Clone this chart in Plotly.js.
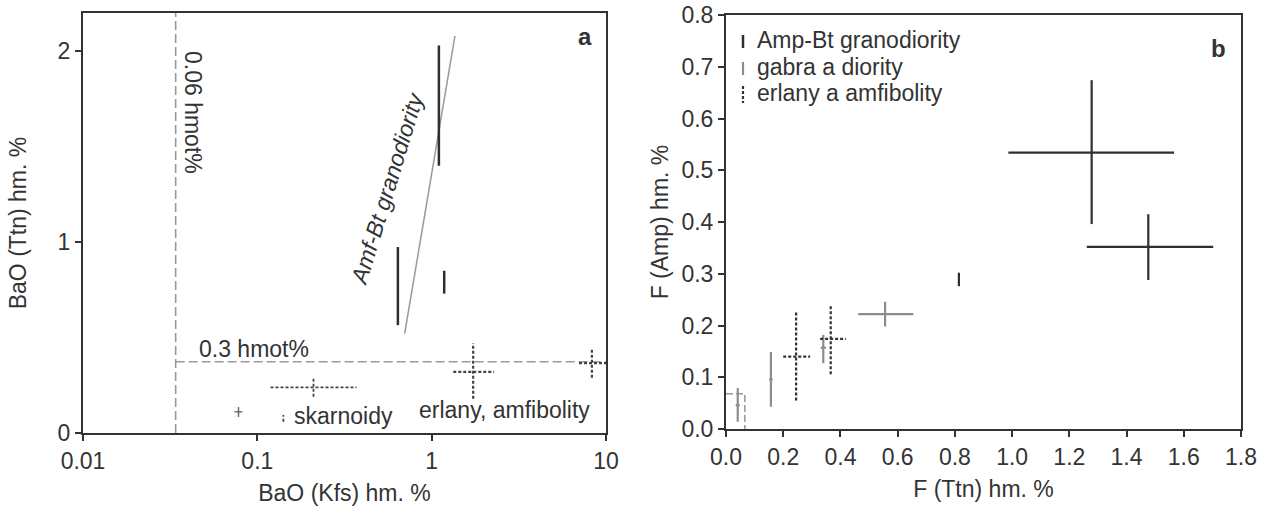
<!DOCTYPE html>
<html><head><meta charset="utf-8">
<script src="https://cdn.plot.ly/plotly-3.0.1.min.js"></script>
<style>html,body{margin:0;padding:0;background:#fff}#chart{width:1264px;height:508px}</style>
</head><body><div id="chart"></div>
<script>
// ---------- Panel a: BaO (Kfs) vs BaO (Ttn) ----------
// Amf-Bt granodiority (solid vertical bars)
const aGranoX    = [1.10, 0.64, 1.18];
const aGranoYLo  = [1.40, 0.565, 0.73];
const aGranoYHi  = [2.03, 0.974, 0.85];
// trend line of granodiority
const aTrendX = [0.70, 1.36];
const aTrendY = [0.52, 2.08];
// erlany, amfibolity (dotted crosses)
const aErlX   = [1.73, 8.3];
const aErlXLo = [1.33, 7.0];
const aErlXHi = [2.28, 10.0];
const aErlY   = [0.32, 0.366];
const aErlYLo = [0.18, 0.29];
const aErlYHi = [0.47, 0.445];
// skarnoidy (dashed cross + dotted tick)
const aSkarX   = [0.21, 0.141];
const aSkarXLo = [0.119, 0.141];
const aSkarXHi = [0.371, 0.141];
const aSkarY   = [0.239, 0.076];
const aSkarYLo = [0.19, 0.059];
const aSkarYHi = [0.288, 0.094];
// small solid grey cross
const aSmallX   = [0.078];
const aSmallXLo = [0.074];
const aSmallXHi = [0.082];
const aSmallY   = [0.111];
const aSmallYLo = [0.084];
const aSmallYHi = [0.136];
// detection limits
const aLimitX = 0.034;   // "0.06 hmot%"
const aLimitY = 0.373;   // "0.3 hmot%"
const aXRangeMax = 10;
const aYRangeMax = 2.2;

// ---------- Panel b: F (Ttn) vs F (Amp) ----------
const bGranoX   = [1.278, 1.476, 0.814];
const bGranoXLo = [0.987, 1.261, 0.814];
const bGranoXHi = [1.566, 1.703, 0.814];
const bGranoY   = [0.534, 0.352, 0.289];
const bGranoYLo = [0.396, 0.288, 0.276];
const bGranoYHi = [0.674, 0.415, 0.302];

const bGabX   = [0.556, 0.340, 0.157, 0.041];
const bGabXLo = [0.462, 0.331, 0.151, 0.034];
const bGabXHi = [0.655, 0.349, 0.163, 0.048];
const bGabY   = [0.222, 0.157, 0.096, 0.046];
const bGabYLo = [0.198, 0.127, 0.043, 0.014];
const bGabYHi = [0.246, 0.182, 0.149, 0.079];

const bErlX   = [0.366, 0.245];
const bErlXLo = [0.329, 0.200];
const bErlXHi = [0.419, 0.294];
const bErlY   = [0.174, 0.140];
const bErlYLo = [0.106, 0.055];
const bErlYHi = [0.240, 0.228];

const bLimitX = 0.066;
const bLimitY = 0.068;

const legendLabels = ['Amp-Bt granodiority', 'gabra a diority', 'erlany a amfibolity'];

// ---------- helpers ----------
function crosses(x, xLo, xHi, y, yLo, yHi) {
  const xs = [], ys = [];
  for (let i = 0; i < x.length; i++) {
    if (xHi[i] !== xLo[i]) { xs.push(xLo[i], xHi[i], null); ys.push(y[i], y[i], null); }
    if (yHi[i] !== yLo[i]) { xs.push(x[i], x[i], null); ys.push(yLo[i], yHi[i], null); }
  }
  return {xs, ys};
}
const W = 1264, H = 508;
const PX = p => p / W, PY = p => 1 - p / H;
const FONT = 'Liberation Sans, Arial, sans-serif';
const FS = 23;
const DARK = '#2f2f2f', GREY = '#8c8c8c';

function segTrace(c, xa, ya, color, width, dash) {
  return {type: 'scatter', mode: 'lines', x: c.xs, y: c.ys, xaxis: xa, yaxis: ya,
          line: {color: color, width: width, dash: dash || 'solid'}, hoverinfo: 'skip', showlegend: false, connectgaps: false};
}

const traces = [];
// Panel a
traces.push({type:'scatter', mode:'lines', x:[aLimitX, aLimitX, null, aLimitX, aXRangeMax], y:[0, aYRangeMax, null, aLimitY, aLimitY],
  xaxis:'x', yaxis:'y', line:{color:'#9a9a9a', width:1.6, dash:'9px,4px'}, showlegend:false, hoverinfo:'skip'});
traces.push({type:'scatter', mode:'lines', x:aTrendX, y:aTrendY, xaxis:'x', yaxis:'y', line:{color:'#999', width:1.5}, showlegend:false, hoverinfo:'skip'});
traces.push(segTrace(crosses(aGranoX, aGranoX, aGranoX, aGranoX.map(()=>0), aGranoYLo, aGranoYHi), 'x', 'y', DARK, 2.5));
traces.push(segTrace(crosses(aErlX, aErlXLo, aErlXHi, aErlY, aErlYLo, aErlYHi), 'x', 'y', '#444', 2.2, '3px,2px'));
traces.push(segTrace(crosses(aSkarX, aSkarXLo, aSkarXHi, aSkarY, aSkarYLo, aSkarYHi), 'x', 'y', '#444', 1.8, '3px,2px'));
traces.push(segTrace(crosses(aSmallX, aSmallXLo, aSmallXHi, aSmallY, aSmallYLo, aSmallYHi), 'x', 'y', '#666', 1.4));
// Panel b
traces.push({type:'scatter', mode:'lines', x:[0, bLimitX, bLimitX], y:[bLimitY, bLimitY, 0], xaxis:'x2', yaxis:'y2',
  line:{color:'#9a9a9a', width:1.6, dash:'7px,3px'}, showlegend:false, hoverinfo:'skip'});
traces.push(segTrace(crosses(bGranoX, bGranoXLo, bGranoXHi, bGranoY, bGranoYLo, bGranoYHi), 'x2', 'y2', DARK, 2.2));
traces.push(segTrace(crosses(bGabX, bGabXLo, bGabXHi, bGabY, bGabYLo, bGabYHi), 'x2', 'y2', GREY, 2.2));
traces.push(segTrace(crosses(bErlX, bErlXLo, bErlXHi, bErlY, bErlYLo, bErlYHi), 'x2', 'y2', '#333', 2.2, '3px,2px'));

const tickFont = {family: FONT, size: FS, color: '#333'};
const titleFont = {family: FONT, size: FS, color: '#333'};
const axCommon = {showline:true, linecolor:'#333', linewidth:2, mirror:true, ticks:'outside', ticklen:6, tickwidth:2,
  tickcolor:'#333', showgrid:false, zeroline:false, tickfont: tickFont};

const annotations = [
  {text:'0.06 hmot%', x:PX(193), y:PY(112), textangle:90},
  {text:'0.3 hmot%', x:PX(254), y:PY(349)},
  {text:'<i>Amf-Bt granodiority</i>', x:PX(387), y:PY(189), textangle:-73},
  {text:'skarnoidy', x:PX(343), y:PY(416)},
  {text:'erlany, amfibolity', x:PX(504), y:PY(410)},
  {text:'<b>a</b>', x:PX(585), y:PY(37), size:24},
  {text:'<b>b</b>', x:PX(1218), y:PY(48), size:24},
  {text:legendLabels[0], x:PX(755), y:PY(40), xanchor:'left'},
  {text:legendLabels[1], x:PX(755), y:PY(67), xanchor:'left'},
  {text:legendLabels[2], x:PX(755), y:PY(93), xanchor:'left'}
].map(a => ({text:a.text, x:a.x, y:a.y, xref:'paper', yref:'paper', showarrow:false, textangle:a.textangle||0,
  xanchor:a.xanchor||'center', yanchor:'middle', font:{family:FONT, size:a.size||FS, color:'#333'}}));

const shapes = [
  {type:'line', xref:'paper', yref:'paper', x0:PX(743), x1:PX(743), y0:PY(35), y1:PY(48), line:{color:DARK, width:2.5}},
  {type:'line', xref:'paper', yref:'paper', x0:PX(743), x1:PX(743), y0:PY(62), y1:PY(75), line:{color:GREY, width:2.2}},
  {type:'line', xref:'paper', yref:'paper', x0:PX(743), x1:PX(743), y0:PY(86), y1:PY(103), line:{color:'#333', width:2.2, dash:'3px,2px'}}
];

const layout = {
  width: W, height: H, margin:{l:0, r:0, t:0, b:0}, paper_bgcolor:'#fff', plot_bgcolor:'#fff', showlegend:false,
  font:{family:FONT, size:FS, color:'#333'},
  xaxis: Object.assign({}, axCommon, {type:'log', domain:[PX(83), PX(606)], range:[-2, 1], tickvals:[0.01,0.1,1,10], ticktext:['0.01','0.1','1','10'],
    anchor:'y', title:{text:'BaO (Kfs) hm. %', font:titleFont, standoff:12}}),
  yaxis: Object.assign({}, axCommon, {domain:[1-433/H, 1-13/H], range:[0, aYRangeMax], tickvals:[0,1,2], anchor:'x',
    title:{text:'BaO (Ttn) hm. %', font:titleFont, standoff:25}}),
  xaxis2: Object.assign({}, axCommon, {domain:[PX(726), PX(1241)], range:[0, 1.8], dtick:0.2, tick0:0, tickformat:'.1f', anchor:'y2',
    title:{text:'F (Ttn) hm. %', font:titleFont, standoff:12}}),
  yaxis2: Object.assign({}, axCommon, {domain:[1-429/H, 1-15/H], range:[0, 0.8], dtick:0.1, tick0:0, tickformat:'.1f', anchor:'x2',
    title:{text:'F (Amp) hm. %', font:titleFont, standoff:6}}),
  annotations: annotations,
  shapes: shapes
};
Plotly.newPlot('chart', traces, layout, {staticPlot:true, displayModeBar:false});
</script></body></html>
